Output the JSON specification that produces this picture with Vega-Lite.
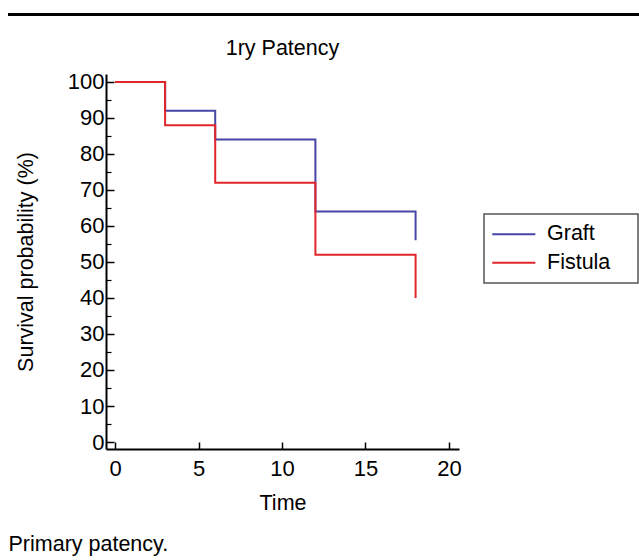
{
  "$schema": "https://vega.github.io/schema/vega-lite/v6.json",
  "padding": {"left": 6, "top": 13, "right": 0, "bottom": 0},
  "background": "white",
  "columns": 1,
  "align": "none",
  "spacing": 21,
  "config": {
    "font": "Liberation Sans",
    "view": {"stroke": null}
  },
  "title": {"text": "Primary patency.", "orient": "bottom", "anchor": "start", "fontSize": 21.5, "fontWeight": "normal", "color": "black", "offset": 20, "dx": 2},
  "datasets": {
    "km": [
      {"group": "Graft", "time": 0, "surv": 100},
      {"group": "Graft", "time": 3, "surv": 92},
      {"group": "Graft", "time": 6, "surv": 84},
      {"group": "Graft", "time": 12, "surv": 64},
      {"group": "Graft", "time": 18, "surv": 56},
      {"group": "Fistula", "time": 0, "surv": 100},
      {"group": "Fistula", "time": 3, "surv": 88},
      {"group": "Fistula", "time": 6, "surv": 72},
      {"group": "Fistula", "time": 12, "surv": 52},
      {"group": "Fistula", "time": 18, "surv": 40}
    ]
  },
  "resolve": {"legend": {"color": "independent"}},
  "concat": [
    {
      "width": 535,
      "height": 3,
      "data": {"values": [{"from": 0, "to": 1, "level": 0.5}]},
      "mark": {"type": "rule", "color": "black", "strokeWidth": 3},
      "encoding": {
        "x": {"field": "from", "type": "quantitative", "scale": {"domain": [0, 1]}, "axis": null},
        "x2": {"field": "to"},
        "y": {"field": "level", "type": "quantitative", "scale": {"domain": [0, 1]},
          "axis": {"title": null, "values": [0.5], "labels": false, "domain": false, "grid": false, "ticks": true, "tickSize": 98, "tickWidth": 3, "tickColor": "black", "tickRound": false, "translate": 0}}
      }
    },
    {
      "width": 353,
      "height": 375,
      "title": {"text": "1ry Patency", "fontSize": 21.5, "fontWeight": "normal", "color": "black", "offset": 11.5},
      "data": {"name": "km"},
      "encoding": {
        "x": {
          "field": "time", "type": "quantitative",
          "scale": {"domain": [-0.54, 20.6], "nice": false, "zero": false},
          "axis": {"title": "Time", "values": [0, 5, 10, 15, 20], "grid": false, "tickSize": -7, "tickWidth": 1.5, "tickColor": "black", "domainColor": "black", "domainWidth": 2, "labelFontSize": 22, "labelColor": "black", "labelPadding": 16.3, "titleFontSize": 21.5, "titleFontWeight": "normal", "titleColor": "black", "titlePadding": 13}
        },
        "y": {
          "field": "surv", "type": "quantitative",
          "scale": {"domain": [-1.94, 102.2], "nice": false, "zero": false}
        },
        "color": {
          "field": "group", "type": "nominal",
          "scale": {"domain": ["Graft", "Fistula"], "range": ["#4646a6", "#e2262b"]},
          "legend": {"title": "\u00a0", "titleOrient": "right", "titleFontSize": 1, "titlePadding": 18, "orient": "none", "legendX": 378, "legendY": 140, "strokeColor": "#555555", "padding": 9.5, "symbolType": "M-1.7,0H4.4", "symbolSize": 200, "symbolStrokeWidth": 2, "labelFontSize": 21.5, "labelColor": "black", "labelOffset": 32, "rowPadding": 5.5,
            "encode": {"legend": {"update": {"strokeWidth": {"value": 1.5}}}}}
        }
      },
      "layer": [
        {
          "transform": [{"filter": "datum.group === 'Graft'"}],
          "mark": {"type": "line", "interpolate": "step-after", "strokeWidth": 2},
          "encoding": {
            "y": {
              "field": "surv", "type": "quantitative",
              "axis": {"orient": "left", "title": ["", "Survival probability (%)"], "titleLineHeight": 7, "values": [0, 10, 20, 30, 40, 50, 60, 70, 80, 90, 100], "grid": false, "tickSize": -8, "tickWidth": 1.5, "tickColor": "black", "domainColor": "black", "domainWidth": 2, "labelFontSize": 22, "labelColor": "black", "labelPadding": 10, "titleFontSize": 21.5, "titleFontWeight": "normal", "titleColor": "black", "titlePadding": 30}
            }
          }
        },
        {
          "transform": [{"filter": "datum.group === 'Fistula'"}],
          "mark": {"type": "line", "interpolate": "step-after", "strokeWidth": 2},
          "encoding": {
            "y": {
              "field": "surv", "type": "quantitative",
              "axis": {"orient": "left", "title": null, "values": [5, 15, 25, 35, 45, 55, 65, 75, 85, 95], "grid": false, "labels": false, "domain": false, "tickSize": -5, "tickWidth": 1.2, "tickColor": "black"}
            }
          }
        }
      ],
      "resolve": {"axis": {"y": "independent"}}
    }
  ]
}
